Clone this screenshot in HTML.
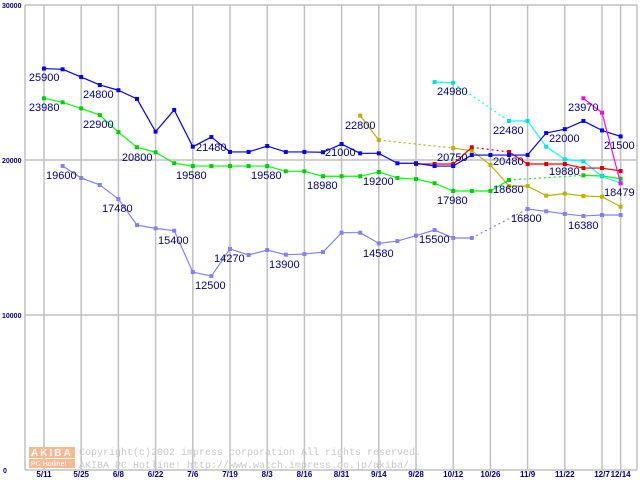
<!DOCTYPE html>
<html><head><meta charset="utf-8"><style>
body{margin:0;background:#fff;}
svg{display:block;font-family:"Liberation Sans",sans-serif;}
</style></head><body>
<svg id="chart" width="640" height="480"></svg>
<script>
const xLabels=["5/11","5/25","6/8","6/22","7/6","7/19","8/3","8/16","8/31","9/14","9/28","10/12","10/26","11/9","11/22","12/7","12/14"];
const xLabelIdx=[0,2,4,6,8,10,12,14,16,18,20,22,24,26,28,30,31];
const yTicks=[0,10000,20000,30000];
const N=null;
const sBlue=[25900,25850,25350,24840,24500,23940,21830,23230,20860,21480,20520,20520,20900,20520,20520,20500,21030,20430,20430,19790,19790,19610,19610,20320,20320,20320,20320,21740,21990,22520,21910,21520];
const sGreen=[23980,23720,23330,22900,21800,20820,20500,19790,19610,19610,19610,19610,19610,19270,19270,18950,18950,18950,19230,18840,18770,18500,18000,18000,18000,18710,N,N,N,19010,18970,18790];
const sLav=[N,19610,18840,18390,17480,15800,15590,15440,12770,12510,14260,13870,14190,13890,13930,14060,15310,15310,14620,14770,15120,15480,14970,14970,N,N,16840,16690,16520,16390,16450,16450];
const sOlive=[N,N,N,N,N,N,N,N,N,N,N,N,N,N,N,N,N,22860,21290,N,N,N,20770,20600,19680,18320,18320,17700,17830,17680,17630,16990];
const sRed=[N,N,N,N,N,N,N,N,N,N,N,N,N,N,N,N,N,N,N,N,19740,19740,19740,20820,N,20520,19740,19740,19740,19480,19480,19290];
const sCyan=[N,N,N,N,N,N,N,N,N,N,N,N,N,N,N,N,N,N,N,N,N,25030,24980,N,N,22520,22520,20860,20040,19910,18950,18500];
const sMag=[N,N,N,N,N,N,N,N,N,N,N,N,N,N,N,N,N,N,N,N,N,N,N,N,N,N,N,N,N,23980,23050,18500];
const labelTexts=["25900","24800","23980","22900","20800","21480","19600","19580","19580","18980","17480","15400","14270","13900","12500","21000","22800","19200","24980","20750","17980","14580","15500","22480","20480","18680","16800","22000","19880","16380","23970","21500","18479"];
const labelIdx=[-0.81,2.10,-0.81,2.10,4.19,8.17,0.11,7.10,11.13,14.14,3.12,6.13,9.14,12.10,8.12,15.11,16.18,17.15,21.13,21.13,21.13,17.15,20.16,24.14,24.14,24.14,25.11,27.15,27.15,28.17,28.17,30.11,30.11];
const labelVal=[25355,24258,23419,22323,20194,20839,19032,19032,19032,18387,16903,14839,13677,13290,11935,20516,22258,18645,24452,20194,17419,14000,14903,21935,19935,18129,16258,21419,19290,15806,23419,20968,17935];

const svg=document.getElementById('chart');
const NS='http://www.w3.org/2000/svg';
const X=i=>44+i*18.6;
const Y=v=>470-v*0.0155;
function mk(t,a,p){const e=document.createElementNS(NS,t);for(const k in a)e.setAttribute(k,a[k]);(p||svg).appendChild(e);return e;}

const grid=mk('g',{});


xLabelIdx.forEach(i=>{mk('line',{x1:X(i),x2:X(i),y1:5,y2:470,stroke:'#c0c0c0','stroke-width':1.5},grid);});
mk('line',{x1:637,x2:637,y1:5,y2:470,stroke:'#c0c0c0','stroke-width':1.5},grid);
yTicks.forEach(v=>{mk('line',{x1:25,x2:637,y1:Y(v),y2:Y(v),stroke:'#c0c0c0','stroke-width':1.5},grid);});
mk('line',{x1:25,x2:25,y1:5,y2:470,stroke:'#c0c0c0','stroke-width':1.5},grid);

yTicks.forEach(v=>{const t=mk('text',{x:v===0?3:2,y:Y(v)+3,'font-size':7,'font-weight':'bold',fill:'#000080'});t.textContent=String(v);

});
xLabelIdx.forEach((i,k)=>{const t=mk('text',{x:X(i),y:477,'font-size':8,'font-weight':'bold',fill:'#000080','text-anchor':'middle'});t.textContent=xLabels[k];

});

const wm=mk('g',{});


mk('rect',{x:29,y:447,width:46,height:11,fill:'#f8b890'},wm);
mk('rect',{x:29,y:459,width:46,height:9,fill:'#f8b890'},wm);
let t1=mk('text',{x:31,y:456,'font-size':10,'font-weight':'bold',fill:'#fff','letter-spacing':'2'},wm);t1.textContent='AKIBA';
let t2=mk('text',{x:31,y:466,'font-size':7,fill:'#fff'},wm);t2.textContent='PC Hotline!';
let t3=mk('text',{x:79,y:455,'font-size':10,fill:'#c8c8c8','font-family':'Liberation Mono, monospace'},wm);t3.textContent='Copyright(c)2002 impress corporation All rights reserved.';
let t4=mk('text',{x:79,y:468,'font-size':10,fill:'#c8c8c8','font-family':'Liberation Mono, monospace'},wm);t4.textContent='AKIBA PC Hotline!  http://www.watch.impress.co.jp/akiba/';

function series(data,color,mcol,name){
  const g=mk('g',{});
  
  
  let prev=-1;
  data.forEach((v,i)=>{
    if(v===null)return;
    if(prev>=0){
      const a={x1:X(prev),y1:Y(data[prev]),x2:X(i),y2:Y(v),stroke:color,'stroke-width':1.2};
      if(i-prev>1)a['stroke-dasharray']='2,3';
      mk('line',a,g);
    }
    prev=i;
  });
  data.forEach((v,i)=>{if(v===null)return;const r=mk('rect',{x:X(i)-2,y:Y(v)-2,width:4,height:4,fill:mcol},g);
  
  });
}
series(sLav,'#8080ff','#8080ff','series-lavender');
series(sOlive,'#c0b000','#c0b000','series-olive');
series(sGreen,'#00ff00','#00d000','series-green');
series(sCyan,'#00ffff','#00e0e0','series-cyan');
series(sRed,'#ff0000','#e00000','series-red');
series(sBlue,'#0000ff','#0000ff','series-blue');
series(sMag,'#ff00ff','#ff00ff','series-magenta');

labelTexts.forEach((s,k)=>{const t=mk('text',{x:X(labelIdx[k]),y:Y(labelVal[k])+4,'font-size':11,fill:'#000080'});t.textContent=s;

});
</script>
</body></html>
